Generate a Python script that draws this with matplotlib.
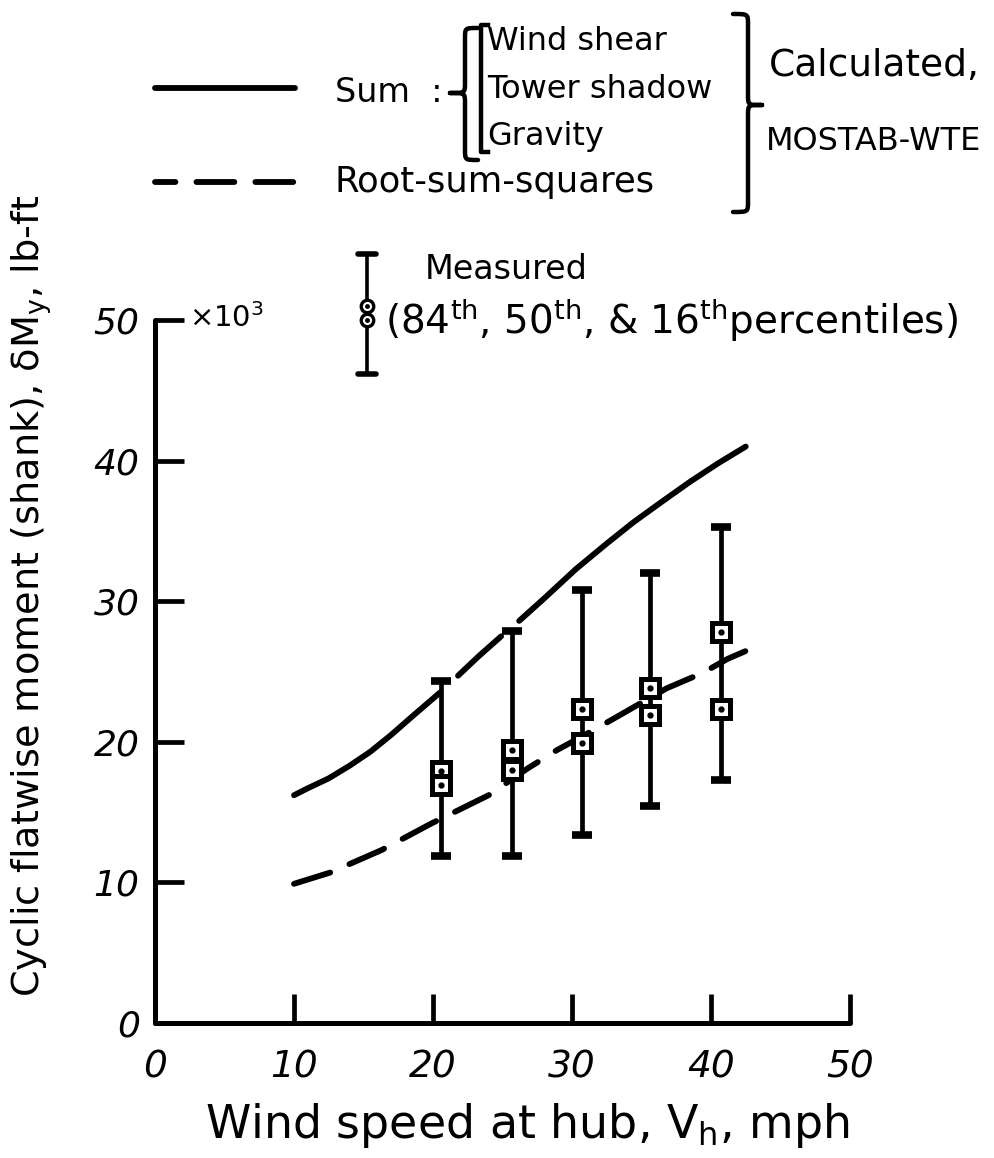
import numpy as np
import matplotlib
matplotlib.use("Agg")
import matplotlib.pyplot as plt
from matplotlib.path import Path
from matplotlib.patches import PathPatch
from matplotlib.lines import Line2D
from matplotlib.transforms import Affine2D

W, H, DPI = 994, 1158, 100

# Calculated sum (wind shear + tower shadow + gravity), x10^3 lb-ft; NaN = pen lift
sum_speed = [10.0, 11.0, 12.5, 14.0, 15.5, 17.0, 18.5, 20.5, np.nan,
             21.8, 23.3, 24.9, np.nan,
             26.2, 28.0, 30.3, 32.5, 34.4, 36.5, 38.5, 40.5, 42.5]
sum_moment = [16.2, 16.7, 17.4, 18.3, 19.3, 20.5, 21.8, 23.5, np.nan,
              24.7, 26.1, 27.5, np.nan,
              28.6, 30.2, 32.3, 34.1, 35.6, 37.1, 38.5, 39.8, 41.0]

# Root-sum-squares of the same components
rss_speed = [10.0, 12.6, 16.3, 19.9, 24.0, 26.8, 28.9, 31.5, 33.8, 36.8, 39.4, 41.2, 43.3]
rss_moment = [9.9, 10.7, 12.3, 14.2, 16.2, 18.1, 19.4, 20.8, 22.1, 23.8, 24.9, 25.9, 26.8]

# Measured percentiles of cyclic flatwise moment
meas_speed = [20.6, 25.7, 30.7, 35.6, 40.7]
meas_p84 = [24.3, 27.9, 30.8, 32.0, 35.3]
meas_p50_upper = [17.9, 19.4, 22.3, 23.8, 27.8]
meas_p50_lower = [16.9, 18.0, 19.9, 21.9, 22.3]
meas_p16 = [11.9, 11.9, 13.4, 15.4, 17.3]

x_ticks = [0, 10, 20, 30, 40, 50]
y_ticks = [0, 10, 20, 30, 40, 50]

FONT = dict(family="DejaVu Sans")
LW = 4.2
DASH = (6.5, 3.6)

fig = plt.figure(figsize=(W / DPI, H / DPI), dpi=DPI)
fig.patch.set_facecolor("white")

# axes frame: x 0..50 spans px 155..850, y 0..50 spans px 1023..320
L, R, B, T = 155, 850, 1023, 320
ax = fig.add_axes([L / W, 1 - B / H, (R - L) / W, (B - T) / H])
ax.set_xlim(0, 50)
ax.set_ylim(0, 50)
for s in ("top", "right"):
    ax.spines[s].set_visible(False)
for s in ("left", "bottom"):
    ax.spines[s].set_linewidth(3.6)
    ax.spines[s].set_capstyle("round")
ax.set_xticks(x_ticks)
ax.set_yticks(y_ticks)
ax.tick_params(direction="in", length=21, width=3.4, color="black")
ax.tick_params(axis="x", pad=19)
ax.tick_params(axis="y", pad=11)
ax.set_xticklabels([str(v) for v in x_ticks], fontsize=27, style="italic", **FONT)
ax.set_yticklabels([str(v) for v in y_ticks], fontsize=26, style="italic", **FONT)

# calculated curves
ax.plot(sum_speed, sum_moment, color="black", lw=LW, solid_capstyle="round",
        solid_joinstyle="round", zorder=3, clip_on=False)
rss_line, = ax.plot(rss_speed, rss_moment, color="black", lw=LW, zorder=3, clip_on=False)
rss_line.set_dashes(DASH)
rss_line.set_dash_capstyle("round")

# measured percentile bars
ax.vlines(meas_speed, meas_p16, meas_p84, color="black", lw=3.4, zorder=4)
ax.plot(meas_speed, meas_p84, ls="none", marker="_", ms=15, mew=5.5, color="black", zorder=4)
ax.plot(meas_speed, meas_p16, ls="none", marker="_", ms=15, mew=5.5, color="black", zorder=4)
for vals in (meas_p50_upper, meas_p50_lower):
    ax.plot(meas_speed, vals, ls="none", marker="s", ms=13, mew=3.6, mfc="white",
            mec="black", zorder=5)
    ax.plot(meas_speed, vals, ls="none", marker="o", ms=3.5, color="black", zorder=6)

# axis titles
fig.text(527 / W, 1 - 1125 / H, "Wind speed at hub, V$_{\\mathregular{h}}$, mph",
         fontsize=33, ha="center", va="center", **FONT)
fig.text(32 / W, 1 - 596 / H, "Cyclic flatwise moment (shank), \u03b4M$_{\\mathregular{y}}$, lb-ft",
         fontsize=27.5, rotation=90, ha="center", va="center", **FONT)
fig.text(189 / W, 1 - 318 / H, "\u00d710$^{\\mathregular{3}}$", fontsize=21,
         ha="left", va="center", **FONT)

# ---- key, drawn in pixel coordinates of the figure ----
px = Affine2D().scale(1 / W, -1 / H).translate(0, 1) + fig.transFigure


def ptext(x, y, s, size=22, **kw):
    fig.text(x / W, 1 - y / H, s, fontsize=size, va="center", **FONT, **kw)


def pline(xs, ys, **kw):
    fig.add_artist(Line2D(xs, ys, transform=px, color="black", **kw))


def brace(x_flat, x_body, x_tip, y0, y1, ytip, lw=3.2):
    r = 10
    verts = [(x_flat, y0), (x_body, y0), (x_body, y0), (x_body, y0 + r),
             (x_body, ytip - r),
             (x_body, ytip), (x_body, ytip), (x_tip, ytip),
             (x_body, ytip), (x_body, ytip), (x_body, ytip + r),
             (x_body, y1 - r),
             (x_body, y1), (x_body, y1), (x_flat, y1)]
    codes = [Path.MOVETO, Path.CURVE4, Path.CURVE4, Path.CURVE4,
             Path.LINETO,
             Path.CURVE4, Path.CURVE4, Path.CURVE4,
             Path.CURVE4, Path.CURVE4, Path.CURVE4,
             Path.LINETO,
             Path.CURVE4, Path.CURVE4, Path.CURVE4]
    fig.add_artist(PathPatch(Path(verts, codes), transform=px, fill=False,
                             lw=lw, capstyle="round", joinstyle="round"))


# solid / dashed key lines
pline([155, 295], [88, 88], lw=LW, solid_capstyle="round")
dl = Line2D([155, 295], [182, 182], transform=px, color="black", lw=LW,
            ls=(3.0, DASH), dash_capstyle="round")
fig.add_artist(dl)

ptext(335, 92, "Sum  :", size=24)
brace(478, 465, 450, 28, 160, 93)
pline([488, 481, 481, 488], [25, 25, 152, 152], lw=3.2)
ptext(487, 42, "Wind shear", size=23)
ptext(487, 90, "Tower shadow", size=23)
ptext(487, 136, "Gravity", size=23)
ptext(335, 182, "Root-sum-squares", size=25.5)

brace(733, 748, 762, 14, 212, 105)
ptext(769, 66, "Calculated,", size=27)
ptext(766, 142, "MOSTAB-WTE", size=23)

# measured key symbol
pline([367, 367], [254, 374], lw=2.6)
pline([358, 376], [254, 254], lw=4.0, solid_capstyle="round")
pline([358, 376], [374, 374], lw=4.0, solid_capstyle="round")
for yc in (306, 320):
    fig.add_artist(Line2D([367], [yc], transform=px, marker="o", ms=9, mew=2.4,
                          mfc="white", mec="black", ls="none"))
    fig.add_artist(Line2D([367], [yc], transform=px, marker="o", ms=2.5,
                          color="black", ls="none"))
ptext(425, 270, "Measured", size=24)
ptext(385, 320, "(84$^{\\mathregular{th}}$, 50$^{\\mathregular{th}}$, & 16$^{\\mathregular{th}}$percentiles)",
      size=28)

fig.savefig("out.png", dpi=DPI, facecolor="white")
